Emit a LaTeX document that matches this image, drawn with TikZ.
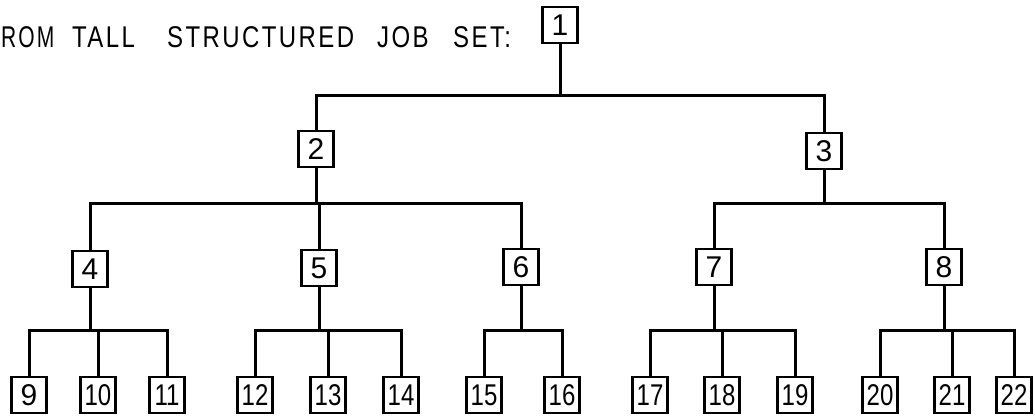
\documentclass[tikz,border=0pt]{standalone}
\usepackage{fontspec}
\setmainfont{Liberation Sans}
\newfontfamily\numfont{Liberation Sans}
\newfontfamily\titlefont[LetterSpace=10]{Liberation Sans}
\newcommand{\tw}[1]{\scalebox{0.8}[1]{#1}}
\newcommand{\tword}[3]{\makebox[#1][l]{\scalebox{#2}[1]{#3}}}
\begin{document}
\begin{tikzpicture}[x=1pt,y=-1pt,
  box/.style={draw, line width=2.4pt, minimum width=35pt, minimum height=36pt, inner sep=0pt,
    font=\numfont\fontsize{30}{30}\selectfont},
  link/.style={line width=3pt, line cap=rect, line join=miter},
  title/.style={anchor=base west, inner sep=0pt, font=\titlefont\fontsize{30}{30}\selectfont}]
\fill[white] (0,0) rectangle (1035,416);
\useasboundingbox (0,0) rectangle (1035,416);
\node[title] (t) at (1,47) {\tword{71pt}{0.7}{ROM}\tword{95pt}{0.8}{TALL}\tword{210pt}{0.8}{STRUCTURED}\tword{76pt}{0.8}{JOB}\scalebox{0.8}[1]{SET:}};
% nodes
\node[box] (n1) at (560,25) {1};
\node[box] (n2) at (316,149) {2};
\node[box] (n3) at (824,151) {3};
\node[box] (n4) at (90,269) {4};
\node[box] (n5) at (319,268) {5};
\node[box] (n6) at (521,267) {6};
\node[box] (n7) at (714,267) {7};
\node[box] (n8) at (944,267) {8};
\node[box] (n9) at (29,395) {9};
\node[box] (n10) at (98,395) {\tw{10}};
\node[box] (n11) at (167,395) {\tw{11}};
\node[box] (n12) at (255,395) {\tw{12}};
\node[box] (n13) at (328,395) {\tw{13}};
\node[box] (n14) at (401,395) {\tw{14}};
\node[box] (n15) at (484,395) {\tw{15}};
\node[box] (n16) at (562,395) {\tw{16}};
\node[box] (n17) at (650,395) {\tw{17}};
\node[box] (n18) at (722,395) {\tw{18}};
\node[box] (n19) at (795,395) {\tw{19}};
\node[box] (n20) at (880,395) {\tw{20}};
\node[box] (n21) at (952,395) {\tw{21}};
\node[box] (n22) at (1014,395) {\tw{22}};
% level 0 -> 1
\draw[link] (n1.south) -- (n1.south |- 0,95);
\draw[link] (n2.north) |- (n3.north |- 0,95) -- (n3.north);
% level 1 -> 2
\draw[link] (n2.south) -- (n2.south |- 0,203);
\draw[link] (n4.north) |- (n6.north |- 0,203) -- (n6.north);
\draw[link] (n5.north) -- (n5.north |- 0,203);
\draw[link] (n3.south) -- (n3.south |- 0,203);
\draw[link] (n7.north) |- (n8.north |- 0,203) -- (n8.north);
% level 2 -> 3
\foreach \p/\a/\m/\b in {n4/n9/n10/n11, n5/n12/n13/n14, n7/n17/n18/n19, n8/n20/n21/n22}{
  \draw[link] (\p.south) -- (\p.south |- 0,330);
  \draw[link] (\a.north) |- (\b.north |- 0,330) -- (\b.north);
  \draw[link] (\m.north) -- (\m.north |- 0,330);
}
\draw[link] (n6.south) -- (n6.south |- 0,330);
\draw[link] (n15.north) |- (n16.north |- 0,330) -- (n16.north);
\end{tikzpicture}
\end{document}
